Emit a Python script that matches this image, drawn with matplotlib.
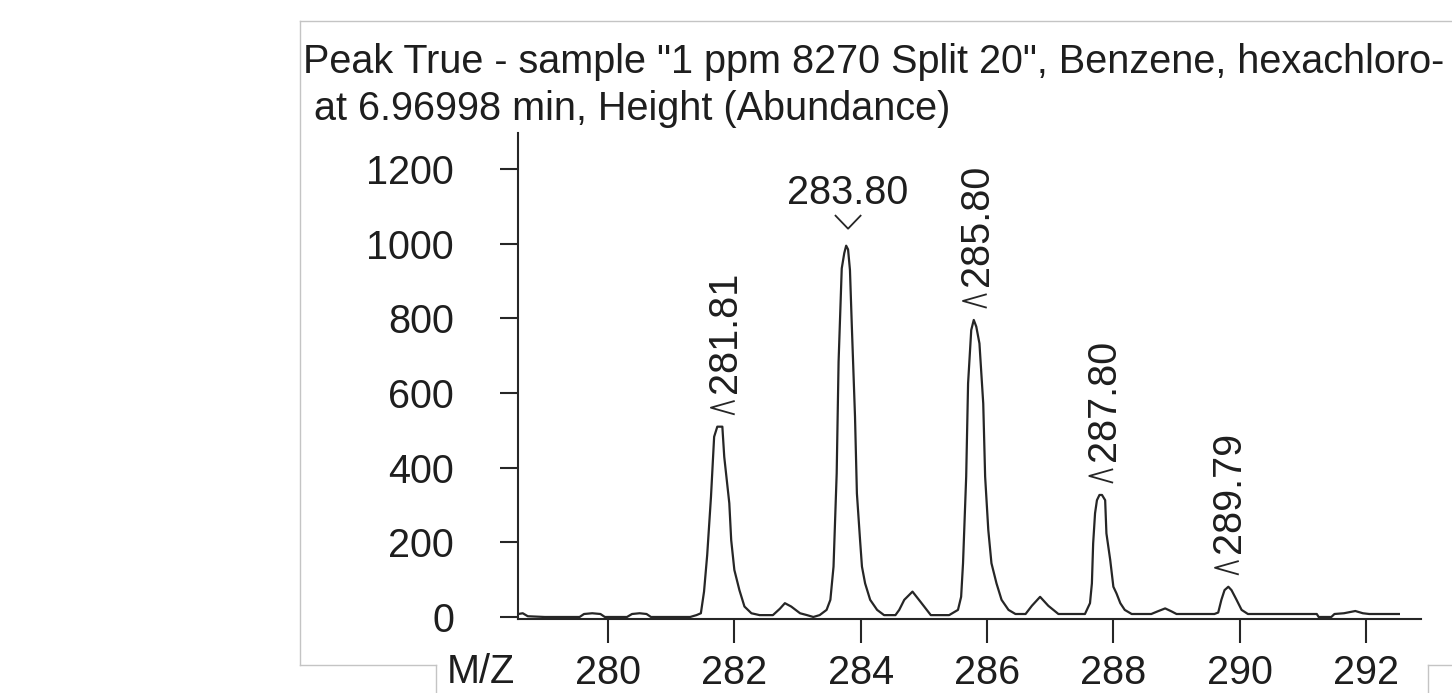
import matplotlib.pyplot as plt
from matplotlib.lines import Line2D
from matplotlib import transforms

plt.rcParams['font.family'] = ['Liberation Sans', 'DejaVu Sans']

# profile trace
mz = [278.58, 278.65, 278.73, 279.00, 279.55, 279.62, 279.75, 279.88, 279.95,
      280.30, 280.38, 280.50, 280.61, 280.68, 281.30, 281.40, 281.47, 281.52,
      281.57, 281.63, 281.68, 281.73, 281.81, 281.84, 281.92, 281.95, 282.00,
      282.08, 282.16, 282.27, 282.40, 282.61, 282.72, 282.80, 282.90, 283.04,
      283.15, 283.25, 283.35, 283.46, 283.52, 283.57, 283.62, 283.65, 283.70,
      283.74, 283.77, 283.80, 283.83, 283.86, 283.91, 283.94, 283.99, 284.02,
      284.07, 284.15, 284.26, 284.37, 284.55, 284.61, 284.69, 284.82, 284.95,
      285.11, 285.40, 285.54, 285.59, 285.62, 285.67, 285.70, 285.75, 285.79,
      285.83, 285.88, 285.94, 285.97, 286.02, 286.07, 286.15, 286.23, 286.34,
      286.45, 286.61, 286.71, 286.84, 286.97, 287.13, 287.55, 287.63, 287.66,
      287.68, 287.71, 287.74, 287.78, 287.82, 287.87, 287.89, 287.95, 288.00,
      288.05, 288.11, 288.18, 288.29, 288.60, 288.70, 288.82, 288.92, 289.00,
      289.60, 289.66, 289.71, 289.76, 289.82, 289.87, 289.95, 290.03, 290.13,
      291.22, 291.25, 291.45, 291.50, 291.65, 291.83, 291.95, 292.05, 292.52]
abundance = [8, 10, 2, 0, 0, 8, 10, 8, 0,
             0, 8, 10, 8, 0, 0, 5, 10, 68,
             166, 322, 483, 510, 510, 429, 305, 206, 126,
             72, 28, 10, 5, 5, 22, 37, 28, 10,
             5, 0, 5, 19, 46, 135, 385, 684, 934,
             975, 995, 985, 930, 778, 537, 331, 206, 135,
             90, 46, 19, 5, 5, 19, 46, 68, 40,
             5, 5, 19, 54, 144, 376, 626, 769, 796,
             778, 733, 572, 376, 233, 144, 90, 46, 19,
             8, 8, 30, 54, 30, 8, 8, 37, 90,
             197, 278, 313, 327, 327, 313, 224, 153, 81,
             63, 37, 19, 8, 8, 15, 23, 15, 8,
             8, 12, 46, 72, 81, 72, 46, 19, 8,
             8, 0, 0, 8, 10, 16, 10, 8, 8]

peak_labels = ['281.81', '283.80', '285.80', '287.80', '289.79']
peak_mz = [281.81, 283.80, 285.80, 287.80, 289.79]
peak_height = [510, 995, 796, 327, 81]
label_rotation = [90, 0, 90, 90, 90]

x_ticks = [280, 282, 284, 286, 288, 290, 292]
y_ticks = [0, 200, 400, 600, 800, 1000, 1200]

title_1 = 'Peak True - sample "1 ppm 8270 Split 20", Benzene, hexachloro-'
title_2 = ' at 6.96998 min, Height (Abundance)'

W, H = 1452, 693
FS = 28.5
ink = '#1e1e1e'
line_c = '#262626'

fig = plt.figure(figsize=(W / 100, H / 100), dpi=100)

# window frame (light grey border around the panel)
frame = [((300, 21), (1452, 21)), ((300, 21), (300, 665)), ((300, 665), (436, 665)),
         ((436, 665), (436, 693)), ((1428, 665), (1452, 665)), ((1428, 665), (1428, 693))]
for (x0, y0), (x1, y1) in frame:
    fig.add_artist(Line2D([x0 / W, x1 / W], [1 - y0 / H, 1 - y1 / H],
                          transform=fig.transFigure, color='#c4c4c4', lw=1))

fig.text(303 / W, 1 - 73 / H, title_1, fontsize=FS, color=ink, va='baseline', ha='left')
fig.text(303 / W, 1 - 120 / H, title_2, fontsize=FS, color=ink, va='baseline', ha='left')

ax = fig.add_axes([518 / W, 1 - 619 / H, (1421 - 518) / W, (619 - 133) / H])
ax.plot(mz, abundance, color=line_c, lw=1.6)

ax.set_xlim(278.575, 292.87)
ax.set_ylim(-5.4, 1297)
ax.set_xticks(x_ticks)
ax.set_yticks(y_ticks)
for s in ['top', 'right']:
    ax.spines[s].set_visible(False)
for s in ['left', 'bottom']:
    ax.spines[s].set_linewidth(1.5)
    ax.spines[s].set_color(line_c)
ax.tick_params(axis='y', direction='out', length=13, width=1.5, pad=33,
               labelsize=FS, colors=line_c, labelcolor=ink)
ax.tick_params(axis='x', direction='out', length=17, width=1.5, pad=8,
               labelsize=FS, colors=line_c, labelcolor=ink)
ax.patch.set_alpha(0)

fig.text(447 / W, 1 - 683 / H, 'M/Z', fontsize=FS, color=ink, va='baseline', ha='left')

# peak labels: small chevron just above the apex, value text above it
# chevron shapes are in inches relative to the apex
chev_v = ([-0.125, 0.0, 0.125], [0.30, 0.17, 0.30])
chev_lt = ([0.115, -0.115, 0.115], [0.255, 0.19, 0.125])

for lab, px, py, rot in zip(peak_labels, peak_mz, peak_height, label_rotation):
    at_peak = fig.dpi_scale_trans + transforms.ScaledTranslation(px, py, ax.transData)
    cx, cy = chev_v if rot == 0 else chev_lt
    ax.plot(cx, cy, color=line_c, lw=1.3, transform=at_peak, clip_on=False)
    if rot == 0:
        ax.annotate(lab, (px, py), xytext=(0, 42), textcoords='offset pixels',
                    ha='center', va='baseline', fontsize=FS, color=ink,
                    annotation_clip=False)
    else:
        ax.annotate(lab, (px, py), xytext=(3, 34), textcoords='offset pixels',
                    ha='center', va='bottom', rotation=90, fontsize=FS, color=ink,
                    annotation_clip=False)

fig.savefig('out.png', dpi=100)
